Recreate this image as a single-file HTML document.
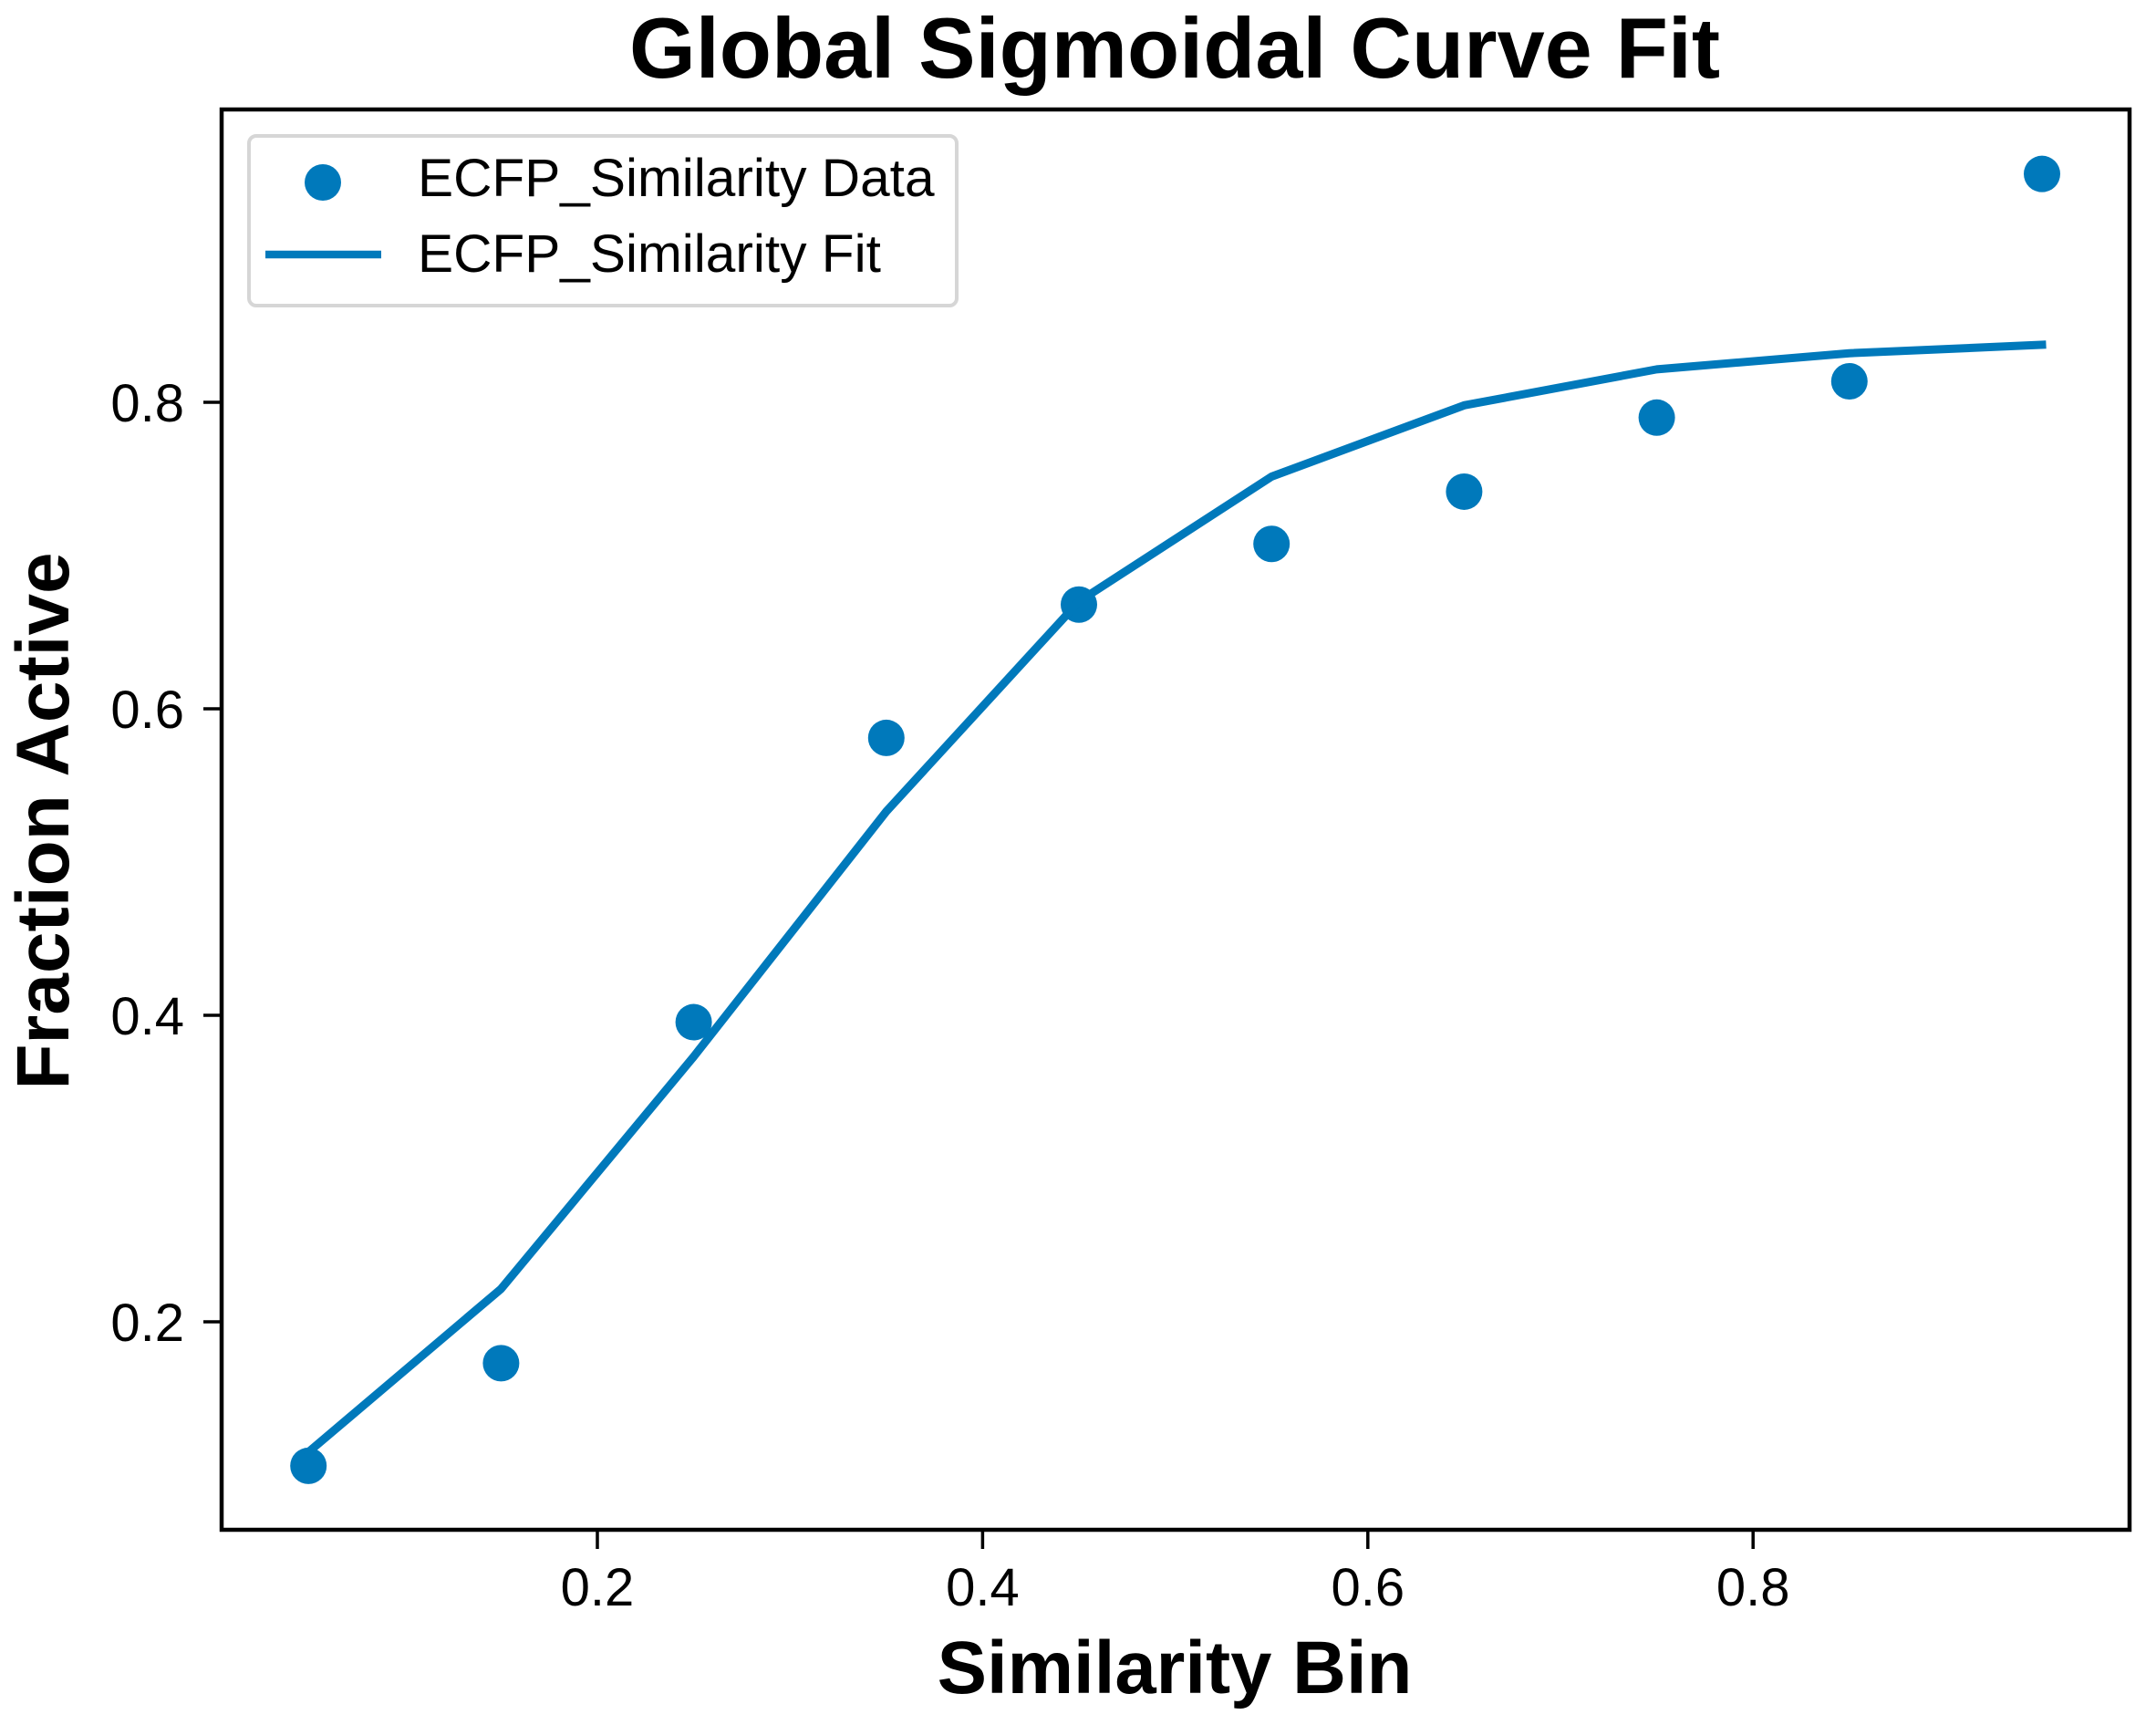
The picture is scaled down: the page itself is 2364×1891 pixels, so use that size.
<!DOCTYPE html>
<html lang="en">
<head>
<meta charset="utf-8">
<title>Global Sigmoidal Curve Fit</title>
<style>
html,body{margin:0;padding:0;background:#fff;}
body{width:2364px;height:1891px;overflow:hidden;}
svg{display:block;}
text{font-family:"Liberation Sans",Arial,sans-serif;fill:#000;}
</style>
</head>
<body>
<svg id="chart" xmlns="http://www.w3.org/2000/svg" width="2364" height="1891" viewBox="0 0 2364 1891">
  <rect x="0" y="0" width="2364" height="1891" fill="#fff"/>
  <text x="1288" y="85" font-size="93.6" font-weight="700" text-anchor="middle">Global Sigmoidal Curve Fit</text>
  <text x="1288" y="1856" font-size="81.5" font-weight="700" text-anchor="middle">Similarity Bin</text>
  <text transform="translate(75,900) rotate(-90)" font-size="82" font-weight="700" text-anchor="middle">Fraction Active</text>
  <g id="ticks"></g>
  <g id="marks"></g>
  <rect x="243" y="120" width="2092" height="1557" fill="none" stroke="#000" stroke-width="4.5"/>
  <g>
    <rect x="273" y="149" width="776" height="186" rx="8" ry="8" fill="#fff" stroke="#d6d6d6" stroke-width="4"/>
    <circle cx="354" cy="200" r="20" fill="#0079bb"/>
    <line x1="291" y1="279" x2="418" y2="279" stroke="#0079bb" stroke-width="8.5"/>
    <text x="458" y="215" font-size="58.6">ECFP_Similarity Data</text>
    <text x="458" y="298" font-size="58.6">ECFP_Similarity Fit</text>
  </g>
</svg>
<script>
const binCenters = [0.05, 0.15, 0.25, 0.35, 0.45, 0.55, 0.65, 0.75, 0.85, 0.95];
const dataValues = [0.106, 0.173, 0.3955, 0.581, 0.668, 0.7076, 0.7417, 0.79, 0.8137, 0.949];
const fitValues = [0.115, 0.2215, 0.373, 0.533, 0.67, 0.7515, 0.798, 0.8215, 0.832, 0.8375];
const xTickValues = [0.2, 0.4, 0.6, 0.8];
const yTickValues = [0.2, 0.4, 0.6, 0.8];

const SVG_NS = 'http://www.w3.org/2000/svg';
const COLOR = '#0079bb';
function xScale(v) { return 655 + (v - 0.2) * 2112; }
function yScale(v) { return 1449 - (v - 0.2) * 1680; }

const ticksGroup = document.getElementById('ticks');
const marksGroup = document.getElementById('marks');

xTickValues.forEach(function (v) {
  const tick = document.createElementNS(SVG_NS, 'line');
  
  
  tick.setAttribute('x1', xScale(v));
  tick.setAttribute('x2', xScale(v));
  tick.setAttribute('y1', 1677);
  tick.setAttribute('y2', 1698);
  tick.setAttribute('stroke', '#000');
  tick.setAttribute('stroke-width', 3.5);
  ticksGroup.appendChild(tick);
  const label = document.createElementNS(SVG_NS, 'text');
  
  
  label.setAttribute('x', xScale(v));
  label.setAttribute('y', 1760);
  label.setAttribute('font-size', 58);
  label.setAttribute('text-anchor', 'middle');
  label.textContent = v.toFixed(1);
  ticksGroup.appendChild(label);
});

yTickValues.forEach(function (v) {
  const tick = document.createElementNS(SVG_NS, 'line');
  
  
  tick.setAttribute('x1', 223);
  tick.setAttribute('x2', 243);
  tick.setAttribute('y1', yScale(v));
  tick.setAttribute('y2', yScale(v));
  tick.setAttribute('stroke', '#000');
  tick.setAttribute('stroke-width', 3.5);
  ticksGroup.appendChild(tick);
  const label = document.createElementNS(SVG_NS, 'text');
  
  
  label.setAttribute('x', 202);
  label.setAttribute('y', yScale(v) + 21);
  label.setAttribute('font-size', 58);
  label.setAttribute('text-anchor', 'end');
  label.textContent = v.toFixed(1);
  ticksGroup.appendChild(label);
});

dataValues.forEach(function (v, i) {
  const point = document.createElementNS(SVG_NS, 'circle');
  
  
  point.setAttribute('cx', xScale(binCenters[i]));
  point.setAttribute('cy', yScale(v));
  point.setAttribute('r', 20);
  point.setAttribute('fill', COLOR);
  marksGroup.appendChild(point);
});

const fitLine = document.createElementNS(SVG_NS, 'polyline');


fitLine.setAttribute('points', fitValues.map(function (v, i) {
  return xScale(binCenters[i]) + ',' + yScale(v);
}).join(' '));
fitLine.setAttribute('fill', 'none');
fitLine.setAttribute('stroke', COLOR);
fitLine.setAttribute('stroke-width', 9);
fitLine.setAttribute('stroke-linejoin', 'round');
fitLine.setAttribute('stroke-linecap', 'square');
marksGroup.appendChild(fitLine);
</script>
</body>
</html>
